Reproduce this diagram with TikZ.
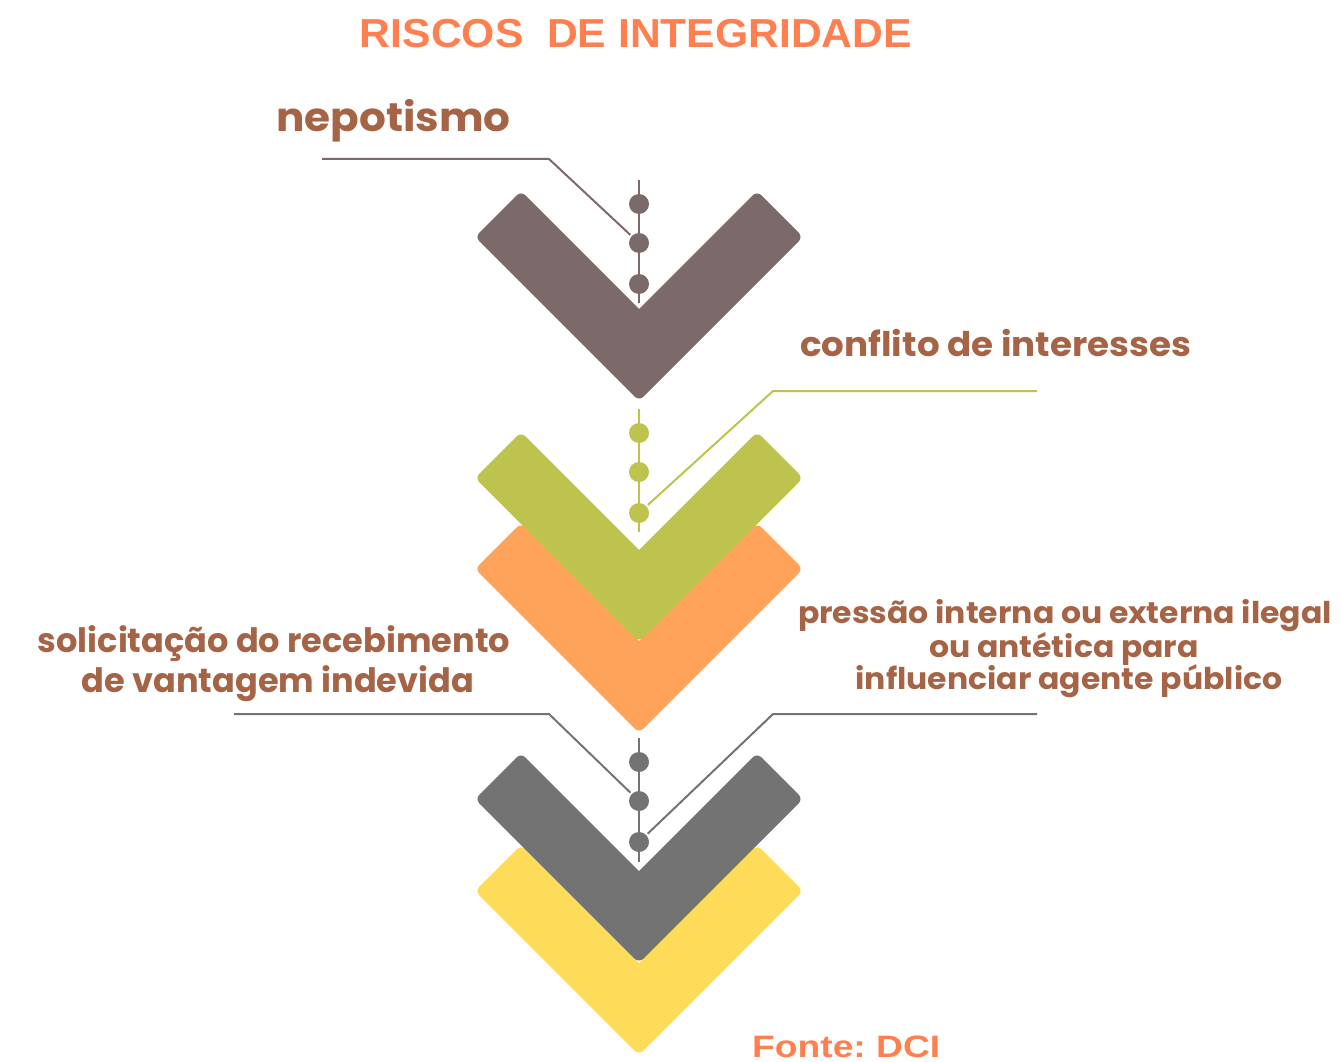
\documentclass[tikz,border=0pt]{standalone}
\usepackage{fontspec}
\setmainfont{Liberation Sans}
\newfontfamily\labfont{Poppins}
\definecolor{chevA}{HTML}{7B6A69}
\definecolor{chevB}{HTML}{BDC34C}
\definecolor{chevC}{HTML}{FFA35A}
\definecolor{chevD}{HTML}{737373}
\definecolor{chevE}{HTML}{FEDC5A}
\definecolor{labbrown}{HTML}{A66446}
\definecolor{titlecoral}{HTML}{FF7F4F}
\tikzset{
  dotnode/.style={circle, fill=#1, minimum size=20pt, inner sep=0pt, outer sep=2pt},
  stem/.style={draw=#1, line width=2.5pt},
  leader/.style={draw=#1, line width=2pt},
  labtext/.style={text=labbrown, inner sep=0pt, font=\labfont\bfseries\fontsize{#1}{#1}\selectfont},
  titletext/.style={text=titlecoral, inner sep=0pt, font=\bfseries\fontsize{#1}{#1}\selectfont}
}
\newcommand{\chevron}[3]{% color, cx, yi
  \fill[#1] (#2,#3) [rounded corners=6pt] -- ++(-118,-118) -- ++(-46,46) -- ++(164,164) -- ++(164,-164) -- ++(-46,-46) [sharp corners] -- cycle;
}
\begin{document}
\begin{tikzpicture}[x=1pt,y=-1pt]
\useasboundingbox (0,0) rectangle (1342,1062);
% chevrons
\chevron{chevA}{639}{309}
\chevron{chevC}{639}{641}
\chevron{chevB}{639}{550}
\chevron{chevE}{639}{963}
\chevron{chevD}{639}{871}
% stems and dots
\coordinate (s1t) at (639,180); \coordinate (s1b) at (639,303);
\coordinate (s2t) at (639,409); \coordinate (s2b) at (639,532);
\coordinate (s4t) at (639,738); \coordinate (s4b) at (639,862);
\draw[stem=chevA] (s1t) -- (s1b);
\draw[stem=chevB] (s2t) -- (s2b);
\draw[stem=chevD] (s4t) -- (s4b);
\node[dotnode=chevA] (d11) at (639,204) {};
\node[dotnode=chevA] (d12) at (639,243) {};
\node[dotnode=chevA] (d13) at (639,284) {};
\node[dotnode=chevB] (d21) at (639,433) {};
\node[dotnode=chevB] (d22) at (639,472) {};
\node[dotnode=chevB] (d23) at (639,513) {};
\node[dotnode=chevD] (d41) at (639,762) {};
\node[dotnode=chevD] (d42) at (639,801) {};
\node[dotnode=chevD] (d43) at (639,842) {};
% leaders
\coordinate (n1) at (322,159); \coordinate (n2) at (549,159);
\coordinate (c1) at (1037,391); \coordinate (c2) at (773,391);
\coordinate (v1) at (234,714); \coordinate (v2) at (549,714);
\coordinate (p1) at (1037,714); \coordinate (p2) at (773,714);
\draw[leader=chevA] (n1) -- (n2) -- (d12);
\draw[leader=chevB] (c1) -- (c2) -- (d23);
\draw[leader=chevD] (v1) -- (v2) -- (d42);
\draw[leader=chevD] (p1) -- (p2) -- (d43);
% texts
\node[titletext=40.5, anchor=base] (title) at (636,48) {\scalebox{1.053}[1]{RISCOS\ \ DE INTEGRIDADE}};
\node[labtext=40, anchor=base west] (nep) at (276,132) {\scalebox{1.054}[1]{nepotismo}};
\node[labtext=34, anchor=base west] (conf) at (800,356) {\scalebox{1.05}[1]{conflito de interesses}};
\node[labtext=33.6, anchor=base] (sol1) at (274,652) {solicitação do recebimento};
\node[labtext=33.6, anchor=base] (sol2) at (278,692) {de vantagem indevida};
\node[labtext=30, anchor=base] (pre1) at (1065,623) {\scalebox{1.05}[1]{pressão interna ou externa ilegal}};
\node[labtext=30, anchor=base] (pre2) at (1064,657) {\scalebox{1.05}[1]{ou antética para}};
\node[labtext=30, anchor=base] (pre3) at (1069,689) {\scalebox{1.05}[1]{influenciar agente público}};
\node[titletext=31, anchor=base west] (fonte) at (752,1057) {\scalebox{1.2}[1]{Fonte:\ DCI}};
\end{tikzpicture}
\end{document}
